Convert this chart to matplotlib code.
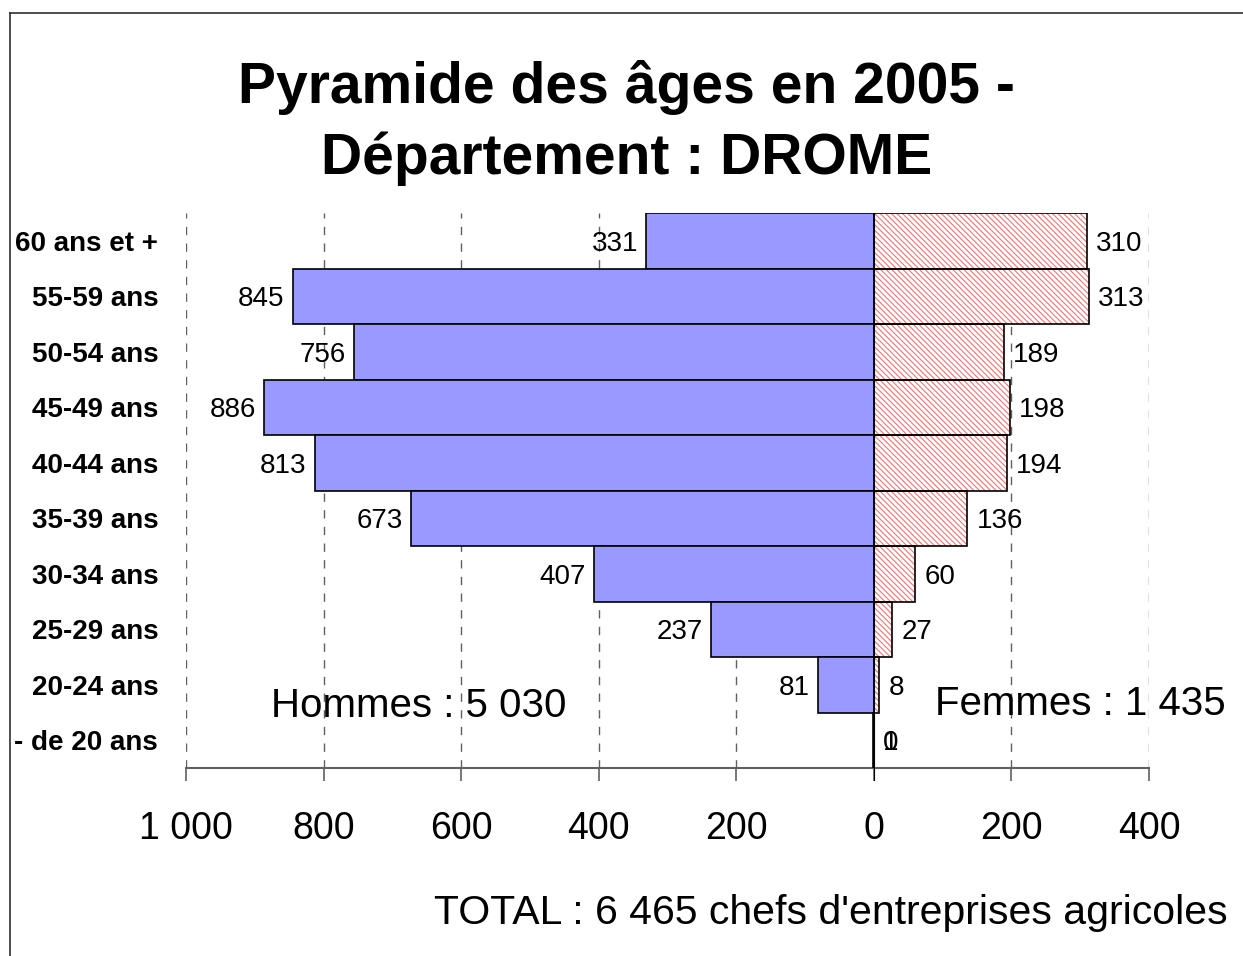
import matplotlib
matplotlib.use('Agg')
import matplotlib.pyplot as plt
import numpy as np
from matplotlib.lines import Line2D

plt.rcParams['font.family'] = ['Liberation Sans', 'DejaVu Sans']
plt.rcParams['hatch.linewidth'] = 0.8

categories = ['60 ans et +', '55-59 ans', '50-54 ans', '45-49 ans', '40-44 ans',
              '35-39 ans', '30-34 ans', '25-29 ans', '20-24 ans', '- de 20 ans']
hommes = [331, 845, 756, 886, 813, 673, 407, 237, 81, 1]
femmes = [310, 313, 189, 198, 194, 136, 60, 27, 8, 0]
xticks = [-1000, -800, -600, -400, -200, 0, 200, 400]
xticklabels = ['1 000', '800', '600', '400', '200', '0', '200', '400']

fig = plt.figure(figsize=(12.43, 9.56), dpi=100)
ax = fig.add_axes([186/1243, 1-768/956, (1149-186)/1243, (768-213)/956])

y = np.arange(len(categories))
hommes = np.array(hommes)
femmes = np.array(femmes)

ax.barh(y, -hommes, height=1.0, color='#9999FF', edgecolor='black', linewidth=1.2, zorder=3)
ax.barh(y, femmes, height=1.0, color='white', edgecolor='#FF6E6E', hatch='\\\\\\\\\\\\',
        linewidth=0, zorder=3)
ax.barh(y, femmes, height=1.0, fill=False, edgecolor='black', linewidth=1.2, zorder=4)

ax.set_xlim(-1000, 400)
ax.set_ylim(9.5, -0.5)

# gridlines dashed (sauf 0)
for xv in xticks:
    if xv != 0:
        ax.axvline(xv, color='#606060', linestyle=(0, (6, 6)), linewidth=1, zorder=1)
ax.plot([0, 0], [-0.5, 9.72], color='black', linewidth=0.8, zorder=5, clip_on=False)

# value labels
px = 963 / 1400.0  # pixels per unit
for i in range(len(categories)):
    h = hommes[i]
    f = femmes[i]
    if h < 5:
        ax.text(9 / px, i, str(h), ha='left', va='center_baseline', fontsize=20, zorder=6)
    else:
        ax.text(-h - 8 / px, i, str(h), ha='right', va='center_baseline', fontsize=20, zorder=6)
    ax.text(f + 9 / px, i, str(f), ha='left', va='center_baseline', fontsize=20, zorder=6)

ax.set_xticks(xticks)
ax.set_xticklabels(xticklabels, fontsize=27)
ax.set_yticks(y)
ax.set_yticklabels(categories, fontsize=20, fontweight='bold')
ax.tick_params(axis='y', length=0, pad=20)
ax.tick_params(axis='x', length=9, width=1.2, color='#606060', pad=22)

for s in ['top', 'right', 'left']:
    ax.spines[s].set_visible(False)
ax.spines['bottom'].set_color('#606060')
ax.spines['bottom'].set_linewidth(1.5)

fig.text(0.504, 1-123/956, 'Pyramide des âges en 2005 -\nDépartement : DROME',
         ha='center', va='center', fontsize=41, fontweight='bold', linespacing=1.38)
fig.text(419/1243, 1-706/956, 'Hommes : 5 030', ha='center', va='center', fontsize=29)
fig.text(1080/1243, 1-704/956, 'Femmes : 1 435', ha='center', va='center', fontsize=29)
fig.text(1228/1243, 1-913/956, "TOTAL : 6 465 chefs d'entreprises agricoles",
         ha='right', va='center', fontsize=29.5)

# cadre
fig.add_artist(Line2D([10/1243, 10/1243], [0, 1-13/956], color='#303030', linewidth=1.2,
                      transform=fig.transFigure))
fig.add_artist(Line2D([10/1243, 1], [1-13/956, 1-13/956], color='#303030', linewidth=1.2,
                      transform=fig.transFigure))

fig.savefig('out.png', dpi=100)
